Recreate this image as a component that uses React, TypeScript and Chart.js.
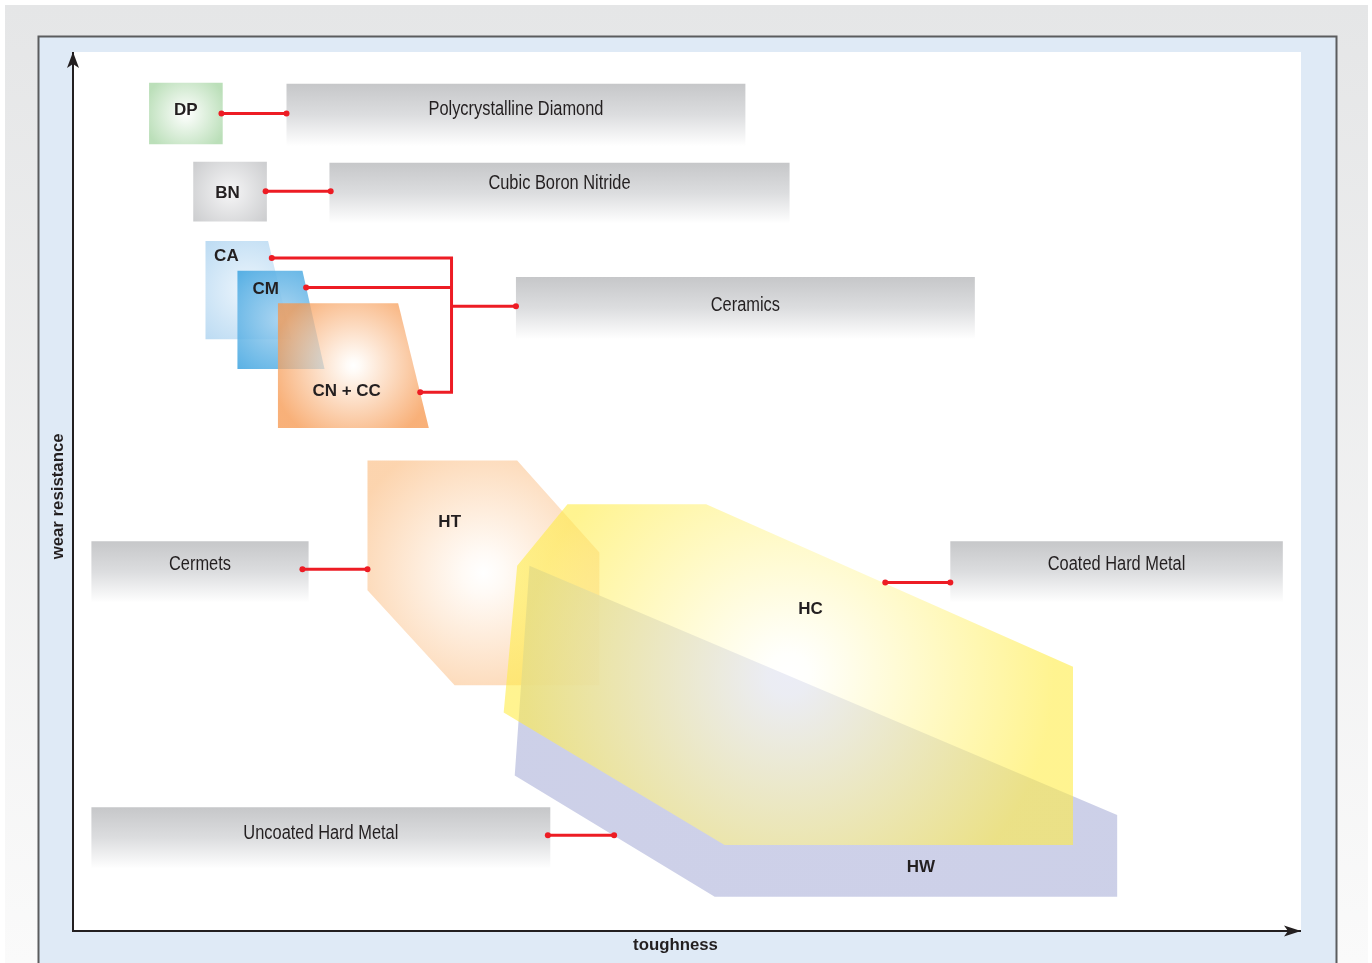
import React, { useEffect, useRef } from 'react';
import { Chart, registerables } from 'chart.js';

Chart.register(...registerables);

type Pt = [number, number];

// ---------------- data (x = toughness, y = wear resistance, both 0–100) ----------------
const axisMin = 0;
const axisMax = 100;

const hwShape: Pt[] = [[37.2, 41.6], [85.1, 13.2], [85.1, 3.9], [52.3, 3.9], [36.0, 17.7]];
const htShape: Pt[] = [[24.0, 53.6], [36.2, 53.6], [42.9, 43.1], [42.9, 28.0], [31.1, 28.0], [24.0, 38.8]];
const hcShape: Pt[] = [[40.3, 48.6], [51.6, 48.6], [81.5, 30.1], [81.5, 9.8], [53.1, 9.8], [35.1, 24.9], [36.2, 41.6]];
const caShape: Pt[] = [[10.8, 78.6], [15.9, 78.6], [17.8, 67.4], [10.8, 67.4]];
const cmShape: Pt[] = [[13.4, 75.2], [18.7, 75.2], [20.5, 64.0], [13.4, 64.0]];
const cnShape: Pt[] = [[16.7, 71.5], [26.5, 71.5], [29.0, 57.3], [16.7, 57.3]];
const bnShape: Pt[] = [[9.8, 87.6], [15.8, 87.6], [15.8, 80.8], [9.8, 80.8]];
const dpShape: Pt[] = [[6.2, 96.6], [12.2, 96.6], [12.2, 89.6], [6.2, 89.6]];

const shapeLabels = ['HW', 'HT', 'HC', 'CA', 'CM', 'CN + CC', 'BN', 'DP'];
const shapeLabelX = [69.1, 30.7, 60.1, 12.5, 15.7, 22.3, 12.6, 9.2];
const shapeLabelY = [7.2, 46.6, 36.6, 76.9, 73.1, 61.5, 84.0, 93.5];

const boxLabels = ['Polycrystalline Diamond', 'Cubic Boron Nitride', 'Ceramics', 'Cermets', 'Coated Hard Metal', 'Uncoated Hard Metal'];
const boxX0 = [17.4, 20.9, 36.1, 1.5, 71.5, 1.5];
const boxX1 = [54.8, 58.4, 73.5, 19.2, 98.6, 38.9];
const boxTop = [96.5, 87.5, 74.5, 44.4, 44.4, 14.1];
const boxBottom = [89.4, 80.6, 67.4, 37.4, 37.4, 7.1];
const boxLabelY = [93.6, 85.1, 71.3, 41.8, 41.8, 11.1];

const dpLink: Pt[] = [[12.1, 93.1], [17.4, 93.1]];
const bnLink: Pt[] = [[15.7, 84.25], [21.0, 84.25]];
const caLink: Pt[] = [[16.2, 76.65], [30.85, 76.65], [30.85, 61.35], [28.3, 61.35]];
const cmLink: Pt[] = [[19.0, 73.3], [30.85, 73.3]];
const ceramicsLink: Pt[] = [[30.85, 71.15], [36.1, 71.15]];
const cermetsLink: Pt[] = [[18.7, 41.2], [24.0, 41.2]];
const coatedLink: Pt[] = [[66.2, 39.7], [71.5, 39.7]];
const uncoatedLink: Pt[] = [[38.7, 10.9], [44.1, 10.9]];

const dpDots = [1, 1];
const bnDots = [1, 1];
const caDots = [1, 0, 0, 1];
const cmDots = [1, 0];
const ceramicsDots = [0, 1];
const cermetsDots = [1, 1];
const coatedDots = [1, 1];
const uncoatedDots = [1, 1];

const xTitle = 'toughness';
const xTitleAt = 49.1; // toughness value under which the title is centred
const yTitle = 'wear resistance';
const yTitleAt = 49.5;

// ---------------- styling helpers ----------------
const INK = '#231f20';
const RED = '#ed1c24';
const toXY = (pts: Pt[]) => pts.map(([x, y]) => ({ x, y }));

function radial(chart: any, pts: Pt[], stops: [number, string][], spread: number) {
  if (!chart.chartArea) return stops[stops.length - 1][1];
  const { x, y } = chart.scales;
  const px = pts.map((p) => x.getPixelForValue(p[0]));
  const py = pts.map((p) => y.getPixelForValue(p[1]));
  const x0 = Math.min(...px), x1 = Math.max(...px), y0 = Math.min(...py), y1 = Math.max(...py);
  const cx = (x0 + x1) / 2, cy = (y0 + y1) / 2;
  const r = Math.hypot(x1 - x0, y1 - y0) * spread;
  const g = chart.ctx.createRadialGradient(cx, cy, 0, cx, cy, r);
  stops.forEach(([o, c]) => g.addColorStop(o, c));
  return g;
}

function boxFill(chart: any, i: number) {
  if (!chart.chartArea) return '#dddddd';
  const y = chart.scales.y;
  const t = y.getPixelForValue(boxTop[i]);
  const b = y.getPixelForValue(boxBottom[i]);
  const g = chart.ctx.createLinearGradient(0, t, 0, b);
  g.addColorStop(0, '#c6c7c9');
  g.addColorStop(0.5, '#dcdddf');
  g.addColorStop(1, '#ffffff');
  return g;
}

function shapeDataset(label: string, pts: Pt[], stops: [number, string][], spread: number, order: number) {
  return {
    label,
    data: toXY(pts),
    fill: 'shape',
    borderWidth: 0,
    borderColor: 'rgba(0,0,0,0)',
    pointRadius: 0,
    pointHoverRadius: 0,
    tension: 0,
    order,
    backgroundColor: (c: any) => radial(c.chart, pts, stops, spread),
  };
}

function linkDataset(label: string, pts: Pt[], dots: number[]) {
  return {
    label,
    data: toXY(pts),
    fill: false,
    borderColor: RED,
    borderWidth: 3,
    borderCapStyle: 'butt',
    borderJoinStyle: 'miter',
    tension: 0,
    pointRadius: dots.map((d) => (d ? 3 : 0)),
    pointHoverRadius: dots.map((d) => (d ? 3 : 0)),
    pointBackgroundColor: RED,
    pointBorderWidth: 0,
    order: 1,
  };
}

const backgroundPlugin = {
  id: 'pageBackground',
  beforeDraw(chart: any) {
    const { ctx, width, height, chartArea: ca } = chart;
    ctx.save();
    ctx.fillStyle = '#ffffff';
    ctx.fillRect(0, 0, width, height);
    const g = ctx.createLinearGradient(0, 5, 0, height);
    g.addColorStop(0, '#e5e6e7');
    g.addColorStop(1, '#fafafa');
    ctx.fillStyle = g;
    ctx.fillRect(5, 5, 1363, height - 5);
    ctx.fillStyle = '#dfeaf6';
    ctx.fillRect(38, 36, 1299, height - 36);
    ctx.strokeStyle = '#5b5c5e';
    ctx.lineWidth = 2;
    ctx.beginPath();
    ctx.moveTo(38.5, height);
    ctx.lineTo(38.5, 36.5);
    ctx.lineTo(1336.5, 36.5);
    ctx.lineTo(1336.5, height);
    ctx.stroke();
    ctx.fillStyle = '#ffffff';
    ctx.fillRect(ca.left, ca.top - 1, ca.right - ca.left + 1, ca.bottom - ca.top + 1);
    ctx.restore();
  },
};

const labelPlugin = {
  id: 'diagramLabels',
  afterDatasetsDraw(chart: any) {
    const { ctx, chartArea: ca } = chart;
    const { x, y } = chart.scales;
    ctx.save();
    ctx.fillStyle = INK;
    ctx.textAlign = 'center';
    ctx.textBaseline = 'middle';
    // condensed box labels
    ctx.font = '20px "Liberation Sans", Arial, sans-serif';
    boxLabels.forEach((t, i) => {
      ctx.save();
      ctx.translate(x.getPixelForValue((boxX0[i] + boxX1[i]) / 2), y.getPixelForValue(boxLabelY[i]));
      ctx.scale(0.82, 1);
      ctx.fillText(t, 0, 0);
      ctx.restore();
    });
    ctx.font = 'bold 17px "Liberation Sans", Arial, sans-serif';
    shapeLabels.forEach((t, i) => {
      ctx.fillText(t, x.getPixelForValue(shapeLabelX[i]), y.getPixelForValue(shapeLabelY[i]));
    });
    // axis titles
    ctx.font = 'bold 16.8px "Liberation Sans", Arial, sans-serif';
    ctx.fillText(xTitle, x.getPixelForValue(xTitleAt), ca.bottom + 14.5);
    ctx.save();
    ctx.translate(ca.left - 15, y.getPixelForValue(yTitleAt));
    ctx.rotate(-Math.PI / 2);
    ctx.fillText(yTitle, 0, 0);
    ctx.restore();
    ctx.restore();
  },
};

const arrowPlugin = {
  id: 'axisArrows',
  afterDraw(chart: any) {
    const { ctx, chartArea: ca } = chart;
    ctx.save();
    ctx.fillStyle = INK;
    const by = ca.bottom;
    ctx.beginPath();
    ctx.moveTo(ca.right + 1, by);
    ctx.lineTo(ca.right - 16, by - 5.5);
    ctx.lineTo(ca.right - 12, by);
    ctx.lineTo(ca.right - 16, by + 5.5);
    ctx.closePath();
    ctx.fill();
    const lx = ca.left;
    ctx.beginPath();
    ctx.moveTo(lx, ca.top - 1);
    ctx.lineTo(lx - 6, ca.top + 15);
    ctx.lineTo(lx, ca.top + 11);
    ctx.lineTo(lx + 6, ca.top + 15);
    ctx.closePath();
    ctx.fill();
    ctx.restore();
  },
};

export default function App() {
  const canvasRef = useRef<HTMLCanvasElement | null>(null);

  useEffect(() => {
    const canvas = canvasRef.current;
    if (!canvas) return;
    Chart.defaults.font.family = '"Liberation Sans", Arial, sans-serif';

    const datasets: any[] = [
      ...boxLabels.map((name, i) => ({
        label: name,
        data: toXY([[boxX0[i], boxTop[i]], [boxX1[i], boxTop[i]], [boxX1[i], boxBottom[i]], [boxX0[i], boxBottom[i]]]),
        fill: 'shape',
        borderWidth: 0,
        borderColor: 'rgba(0,0,0,0)',
        pointRadius: 0,
        pointHoverRadius: 0,
        tension: 0,
        order: 100 - i,
        backgroundColor: (c: any) => boxFill(c.chart, i),
      })),
      shapeDataset('HT', htShape, [[0, 'rgba(255,255,255,0.95)'], [0.15, 'rgba(255,250,245,0.95)'], [1, 'rgba(252,210,170,0.95)']], 0.43, 90),
      shapeDataset('HW', hwShape, [[0, 'rgba(198,201,229,0.86)'], [1, 'rgba(196,200,228,0.86)']], 0.5, 89),
      shapeDataset('HC', hcShape, [[0, 'rgba(255,255,255,0.6)'], [0.08, 'rgba(255,255,250,0.6)'], [1, 'rgba(255,236,70,0.6)']], 0.4, 88),
      shapeDataset('CA', caShape, [[0, 'rgba(236,245,252,0.95)'], [1, 'rgba(184,217,242,0.95)']], 0.5, 87),
      shapeDataset('CM', cmShape, [[0, 'rgba(165,210,240,0.86)'], [1, 'rgba(62,164,224,0.86)']], 0.5, 86),
      shapeDataset('CN + CC', cnShape, [[0, 'rgba(255,255,255,0.75)'], [0.08, 'rgba(255,250,245,0.75)'], [1, 'rgba(246,150,76,0.75)']], 0.42, 85),
      shapeDataset('BN', bnShape, [[0, 'rgba(246,246,247,1)'], [1, 'rgba(203,204,206,1)']], 0.5, 84),
      shapeDataset('DP', dpShape, [[0, 'rgba(255,255,255,1)'], [1, 'rgba(187,223,185,1)']], 0.44, 83),
      linkDataset('DP link', dpLink, dpDots),
      linkDataset('BN link', bnLink, bnDots),
      linkDataset('CA link', caLink, caDots),
      linkDataset('CM link', cmLink, cmDots),
      linkDataset('Ceramics link', ceramicsLink, ceramicsDots),
      linkDataset('Cermets link', cermetsLink, cermetsDots),
      linkDataset('Coated link', coatedLink, coatedDots),
      linkDataset('Uncoated link', uncoatedLink, uncoatedDots),
    ];

    const chart = new Chart(canvas, {
      type: 'line',
      data: { datasets },
      options: {
        responsive: false,
        animation: false,
        events: [],
        devicePixelRatio: 1,
        layout: { autoPadding: false, padding: { left: 73, right: 72, top: 53, bottom: 32 } },
        plugins: { legend: { display: false }, tooltip: { enabled: false } },
        scales: {
          x: {
            type: 'linear',
            min: axisMin,
            max: axisMax,
            position: 'bottom',
            ticks: { display: false },
            grid: { display: false, drawTicks: false },
            border: { display: true, color: INK, width: 2 },
            title: { display: false },
          },
          y: {
            type: 'linear',
            min: axisMin,
            max: axisMax,
            position: 'left',
            ticks: { display: false },
            grid: { display: false, drawTicks: false },
            border: { display: true, color: INK, width: 2 },
            title: { display: false },
          },
        },
      } as any,
      plugins: [backgroundPlugin, labelPlugin, arrowPlugin],
    });
    return () => chart.destroy();
  }, []);

  return (
    <div style={{ position: 'absolute', left: 0, top: 0, width: 1372, height: 963, overflow: 'hidden' }}>
      <canvas ref={canvasRef} width={1372} height={963} style={{ display: 'block' }} />
    </div>
  );
}
